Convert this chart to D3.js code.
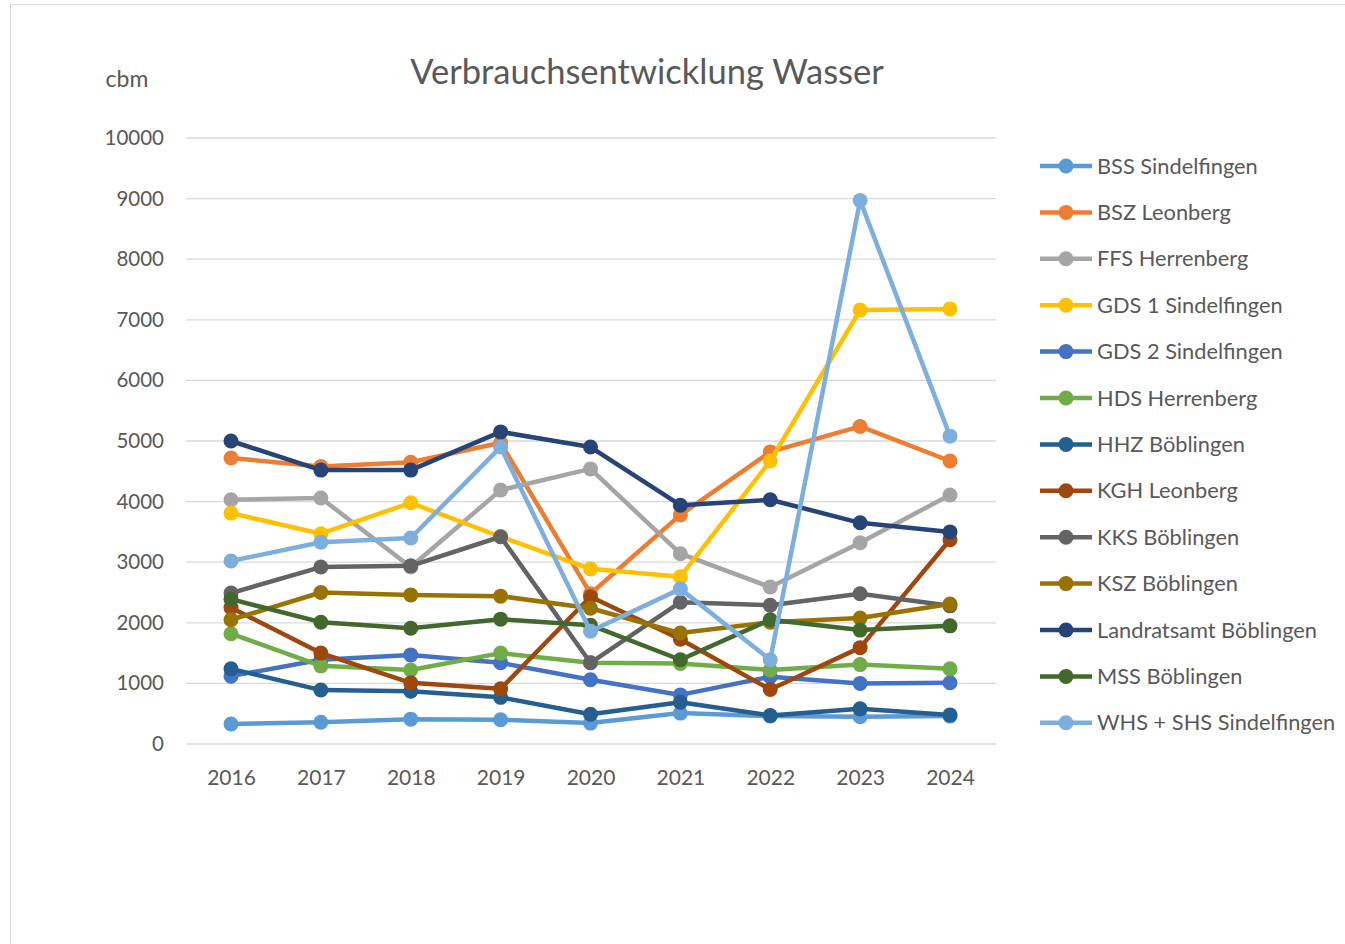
<!DOCTYPE html>
<html lang="de">
<head>
<meta charset="UTF-8">
<title>Verbrauchsentwicklung Wasser</title>
<script src="https://d3js.org/d3.v7.min.js"></script>
<style>
    body { margin: 0; background: #fff; }
    svg { display: block; font-family: Lato, "Open Sans", sans-serif; }
</style>
</head>
<body>
<svg id="chart" width="1345" height="944"></svg>
<script>
// years on the x axis
const years = ["2016", "2017", "2018", "2019", "2020", "2021", "2022", "2023", "2024"];
const yTicks = [0, 1000, 2000, 3000, 4000, 5000, 6000, 7000, 8000, 9000, 10000];

// series values (cbm)
const bssSindelfingen   = [330, 360, 410, 400, 345, 510, 460, 450, 460];
const bszLeonberg       = [4720, 4580, 4650, 4970, 2480, 3780, 4820, 5240, 4670];
const ffsHerrenberg     = [4030, 4060, 2920, 4190, 4540, 3140, 2590, 3320, 4110];
const gds1Sindelfingen  = [3810, 3470, 3980, 3420, 2890, 2760, 4670, 7160, 7180];
const gds2Sindelfingen  = [1120, 1390, 1470, 1340, 1060, 810, 1110, 1000, 1010];
const hdsHerrenberg     = [1820, 1290, 1220, 1500, 1340, 1330, 1220, 1310, 1240];
const hhzBoeblingen     = [1240, 890, 870, 770, 490, 690, 470, 580, 480];
const kghLeonberg       = [2250, 1500, 1010, 910, 2430, 1730, 900, 1590, 3370];
const kksBoeblingen     = [2490, 2920, 2940, 3420, 1340, 2340, 2290, 2480, 2280];
const kszBoeblingen     = [2050, 2500, 2460, 2440, 2240, 1830, 2010, 2080, 2310];
const landratsamt       = [5000, 4520, 4520, 5150, 4900, 3940, 4030, 3650, 3500];
const mssBoeblingen     = [2390, 2010, 1910, 2060, 1960, 1390, 2050, 1880, 1950];
const whsShsSindelfingen = [3020, 3330, 3400, 4900, 1860, 2560, 1390, 8970, 5080];

const seriesNames = ["BSS Sindelfingen", "BSZ Leonberg", "FFS Herrenberg", "GDS 1 Sindelfingen",
    "GDS 2 Sindelfingen", "HDS Herrenberg", "HHZ Böblingen", "KGH Leonberg", "KKS Böblingen",
    "KSZ Böblingen", "Landratsamt Böblingen", "MSS Böblingen", "WHS + SHS Sindelfingen"];
const seriesValues = [bssSindelfingen, bszLeonberg, ffsHerrenberg, gds1Sindelfingen, gds2Sindelfingen,
    hdsHerrenberg, hhzBoeblingen, kghLeonberg, kksBoeblingen, kszBoeblingen, landratsamt,
    mssBoeblingen, whsShsSindelfingen];
const colors = ["#5B9BD5", "#ED7D31", "#A5A5A5", "#FFC000", "#4472C4", "#70AD47", "#255E91",
    "#9E480E", "#636363", "#997300", "#264478", "#43682B", "#7CAFDD"];

const svg = d3.select("#chart");

// outer frame
svg.append("rect")
    .attr("x", 10.5).attr("y", 4.5)
    .attr("width", 1345).attr("height", 950)
    .attr("fill", "none").attr("stroke", "#d9d9d9");

const x = d3.scalePoint().domain(years).range([231, 950]);
const y = d3.scaleLinear().domain([0, 10000]).range([744, 138]);

// gridlines
svg.append("g")
    .selectAll("line")
    .data(yTicks)
    .join("line")
    .attr("x1", 186).attr("x2", 996)
    .attr("y1", d => y(d)).attr("y2", d => y(d))
    .attr("stroke", "#d9d9d9").attr("stroke-width", 1.3);

// y axis labels
const yAxis = svg.append("g")
    .attr("transform", "translate(170,0)")
    .call(d3.axisLeft(y).tickValues(yTicks).tickSize(0).tickPadding(6).tickFormat(d3.format("d")));
yAxis.select(".domain").remove();
yAxis.selectAll("text")
    .attr("font-family", "Lato, sans-serif")
    .attr("font-size", 20.5).attr("fill", "#595959");

// x axis labels
const xAxis = svg.append("g")
    .attr("transform", "translate(0,762)")
    .call(d3.axisBottom(x).tickSize(0).tickPadding(8));
xAxis.select(".domain").remove();
xAxis.selectAll("text")
    .attr("font-family", "Lato, sans-serif")
    .attr("font-size", 21).attr("fill", "#595959");

// title and unit
svg.append("text")
    .attr("x", 647).attr("y", 84)
    .attr("text-anchor", "middle")
    .attr("font-size", 34.5).attr("fill", "#595959")
    .text("Verbrauchsentwicklung Wasser");

svg.append("text")
    .attr("x", 127).attr("y", 87)
    .attr("text-anchor", "middle")
    .attr("font-size", 23).attr("fill", "#595959")
    .text("cbm");

const line = d3.line()
    .x((d, i) => x(years[i]))
    .y(d => y(d));

const series = seriesNames.map((name, i) => ({ name, values: seriesValues[i], color: colors[i] }));

const groups = svg.append("g")
    .selectAll("g")
    .data(series)
    .join("g");

groups.append("path")
    .attr("d", d => line(d.values))
    .attr("fill", "none")
    .attr("stroke", d => d.color)
    .attr("stroke-width", 4.5)
    .attr("stroke-linejoin", "round");

groups.selectAll("circle")
    .data(d => d.values.map(v => ({ v, color: d.color })))
    .join("circle")
    .attr("cx", (d, i) => x(years[i]))
    .attr("cy", d => y(d.v))
    .attr("r", 7.5)
    .attr("fill", d => d.color);

// legend
const legend = svg.append("g")
    .selectAll("g")
    .data(series)
    .join("g")
    .attr("transform", (d, i) => `translate(1040,${166 + i * 46.4})`);

legend.append("line")
    .attr("x1", 0).attr("x2", 52)
    .attr("stroke", d => d.color).attr("stroke-width", 4.5);
legend.append("circle")
    .attr("cx", 26).attr("r", 7.5)
    .attr("fill", d => d.color);
legend.append("text")
    .attr("x", 57).attr("y", 7.5)
    .attr("font-size", 21.8).attr("fill", "#595959")
    .text(d => d.name);
</script>
</body>
</html>
